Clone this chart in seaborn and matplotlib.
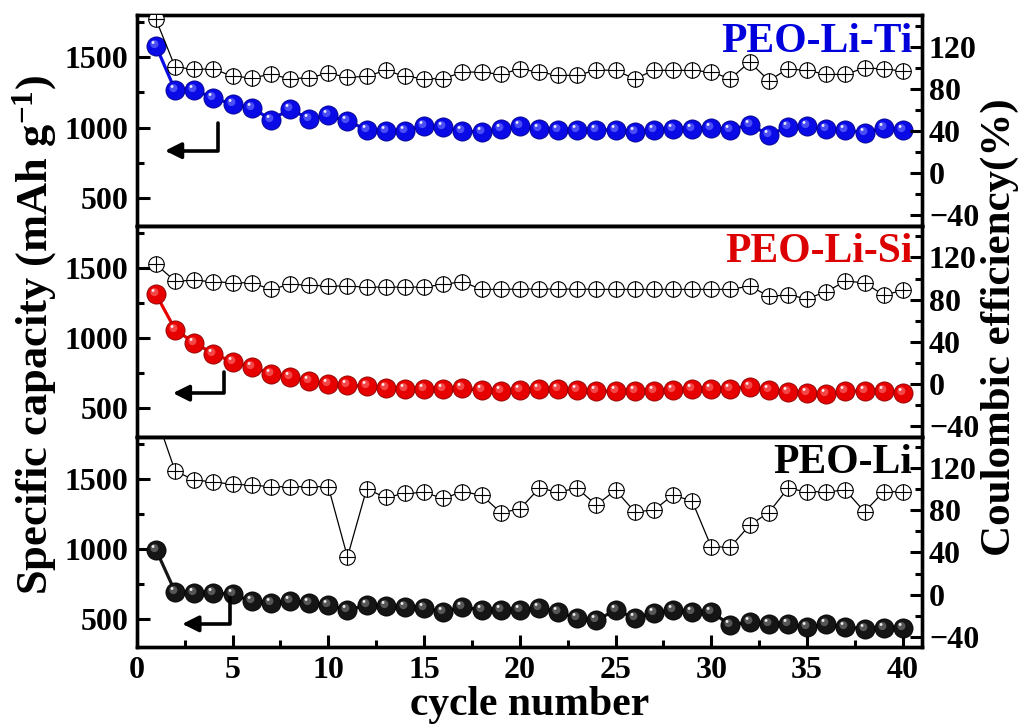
import numpy as np
import matplotlib
matplotlib.use("Agg")
import matplotlib.pyplot as plt
import seaborn as sns
from matplotlib.path import Path
from matplotlib.markers import MarkerStyle
from matplotlib.ticker import MultipleLocator

# ---- data ----
cycles = np.arange(1, 41)

ti_capacity = [1581, 1266, 1271, 1207, 1169, 1141, 1057, 1129, 1064, 1088,
               1045, 986, 974, 979, 1014, 1002, 974, 969, 990, 1009,
               993, 986, 980, 980, 985, 970, 985, 990, 990, 995,
               985, 1021, 950, 1002, 1009, 990, 983, 962, 998, 981]
ti_ce = [146, 100.8, 98.6, 99, 92, 90.6, 93.8, 89.7, 90.6, 95,
         91, 92, 97.6, 92, 89.7, 89.7, 96, 96, 93.8, 99,
         96, 92.9, 92.9, 98, 97.6, 89.7, 97.6, 97.6, 97.6, 96,
         89.7, 105.6, 88, 99, 97.6, 93.8, 93.8, 100, 99, 97]

si_capacity = [1314, 1062, 967, 891, 831, 795, 748, 724, 695, 676,
               664, 659, 648, 636, 636, 641, 645, 629, 621, 634,
               636, 636, 634, 624, 622, 622, 624, 629, 636, 641,
               641, 655, 629, 617, 612, 600, 624, 624, 624, 612]
si_ce = [113.5, 97.6, 98.3, 97, 96, 96, 89.7, 94.5, 93.8, 92.9,
         92.9, 91.9, 91.9, 91.9, 91.9, 94.5, 97, 89.7, 89.7, 90,
         90, 90, 90, 89.7, 89.7, 89.7, 89.7, 89.7, 89.7, 89.7,
         89.7, 92.9, 83.3, 84.3, 81, 87.4, 97.6, 96, 84.3, 88.8]

li_capacity = [995, 695, 688, 688, 676, 629, 616, 629, 616, 600,
               564, 600, 595, 588, 583, 552, 588, 564, 562, 564,
               583, 552, 505, 493, 564, 510, 545, 564, 552, 552,
               457, 481, 467, 467, 443, 467, 443, 433, 436, 436]
li_ce = [170, 117.3, 108.7, 107, 104.6, 104, 102.4, 102.4, 102.4, 102.4,
         35.7, 100.2, 92.2, 96, 97, 91.3, 97.6, 94.5, 77.9, 81.1,
         100.8, 97.6, 100.8, 85, 99.2, 78.6, 80.2, 94.5, 88.8, 45.2,
         45.2, 65.9, 77.9, 100.8, 97.6, 97.6, 99.2, 78.6, 97.6, 97.6]

labels = ["PEO-Li-Ti", "PEO-Li-Si", "PEO-Li"]
ball_colors = ["#0a0ae6", "#e60000", "#151515"]
edge_colors = ["#00008a", "#8a0000", "#000000"]
shine_colors = ["#7d86ff", "#ff8080", "#8c8c8c"]
text_colors = ["#0000dd", "#dd0000", "#000000"]

# arrow (vertical x, top y, corner y, tip x) in axes fraction
arrows = [(0.103, 0.486, 0.357, 0.036),
          (0.111, 0.306, 0.206, 0.046),
          (0.119, 0.250, 0.111, 0.058)]

# ---- style ----
sns.set_theme(style="ticks")
plt.rcParams["font.family"] = ["Liberation Serif", "DejaVu Serif"]
plt.rcParams["font.weight"] = "bold"
plt.rcParams["axes.labelweight"] = "bold"
plt.rcParams["mathtext.fontset"] = "custom"
plt.rcParams["mathtext.rm"] = "Liberation Serif:bold"
plt.rcParams["mathtext.bf"] = "Liberation Serif:bold"
plt.rcParams["mathtext.default"] = "bf"
for key in ["text.color", "axes.labelcolor", "xtick.color", "ytick.color",
            "axes.edgecolor"]:
    plt.rcParams[key] = "black"


def offset_circle(cx, cy, r):
    # circle placed off-centre inside a [-1, 1] box, used as highlight marker
    c = Path.circle(center=(cx, cy), radius=r)
    verts = np.concatenate([[[-1, -1], [1, 1]], c.vertices])
    codes = np.concatenate([[Path.MOVETO, Path.MOVETO], c.codes])
    return MarkerStyle(Path(verts, codes))


shine = offset_circle(-0.22, 0.25, 0.42)
spot = offset_circle(-0.36, 0.42, 0.15)

fig, axes = plt.subplots(3, 1, figsize=(10.21, 7.24), dpi=100, sharex=True)
fig.subplots_adjust(left=0.134, right=0.903, top=0.979, bottom=0.106, hspace=0)

caps = [ti_capacity, si_capacity, li_capacity]
ces = [ti_ce, si_ce, li_ce]

for i, ax in enumerate(axes):
    ax2 = ax.twinx()

    # capacity: line + shaded balls
    sns.lineplot(x=cycles, y=caps[i], ax=ax, color=ball_colors[i], lw=2.3, zorder=2)
    sns.scatterplot(x=cycles, y=caps[i], ax=ax, s=190, color=ball_colors[i],
                    edgecolor=edge_colors[i], linewidth=0.6, zorder=3)
    ax.scatter(cycles, caps[i], s=190, marker=shine, color=shine_colors[i],
               alpha=0.55, linewidths=0, zorder=4)
    ax.scatter(cycles, caps[i], s=190, marker=spot, color="white",
               alpha=0.9, linewidths=0, zorder=5)

    # coulombic efficiency: open circles with a cross
    sns.lineplot(x=cycles, y=ces[i], ax=ax2, color="black", lw=0.9, zorder=2)
    sns.scatterplot(x=cycles, y=ces[i], ax=ax2, s=125, marker="o", color="white",
                    edgecolor="black", linewidth=0.8, zorder=3)
    ax2.scatter(cycles, ces[i], s=125, marker="+", color="black",
                linewidths=0.8, zorder=4)

    ax.set_xlim(0, 41)
    ax.set_ylim(300, 1800)
    ax2.set_ylim(-50, 150)
    ax.yaxis.set_major_locator(MultipleLocator(500))
    ax.yaxis.set_minor_locator(MultipleLocator(250))
    ax2.yaxis.set_major_locator(MultipleLocator(40))
    ax2.yaxis.set_minor_locator(MultipleLocator(20))
    ax.xaxis.set_major_locator(MultipleLocator(5))
    ax.xaxis.set_minor_locator(MultipleLocator(2.5))

    ax.tick_params(axis="y", which="both", direction="in", width=2.2,
                   labelsize=23, pad=6, right=False, colors="black")
    ax.tick_params(axis="y", which="major", length=9)
    ax.tick_params(axis="y", which="minor", length=5)
    ax2.tick_params(axis="y", which="both", direction="in", width=2.2,
                    labelsize=23, pad=5, colors="black")
    ax2.tick_params(axis="y", which="major", length=9)
    ax2.tick_params(axis="y", which="minor", length=5)
    ax.tick_params(axis="x", which="both", direction="in", width=2.2,
                   labelsize=23, pad=6, top=False, colors="black")
    ax.tick_params(axis="x", which="major", length=9)
    ax.tick_params(axis="x", which="minor", length=5)
    if i < 2:
        ax.tick_params(axis="x", which="both", bottom=False, labelbottom=False)

    for a in (ax, ax2):
        for sp in a.spines.values():
            sp.set_linewidth(2.4)
            sp.set_color("black")
        a.set_ylabel("")
    ax.set_xlabel("")

    ax.text(0.988, 0.965, labels[i], transform=ax.transAxes, ha="right", va="top",
            fontsize=30, fontweight="bold", color=text_colors[i], zorder=10)

    xv, ytop, ycorner, xtip = arrows[i]
    ax.annotate("", xy=(xtip, ycorner), xycoords="axes fraction",
                xytext=(xv, ytop), textcoords="axes fraction",
                arrowprops=dict(arrowstyle="-|>", color="black", lw=2.6,
                                connectionstyle="angle,angleA=90,angleB=0,rad=0",
                                shrinkA=0, shrinkB=0, mutation_scale=24))

axes[2].set_xlabel("cycle number", fontsize=30, fontweight="bold", labelpad=1,
                   color="black")

fig.text(0.034, 0.537, "Specific capacity (mAh g$^{-1}$)", rotation=90,
         ha="center", va="center", fontsize=32, fontweight="bold", color="black")
fig.text(0.979, 0.548, "Coulombic efficiency(%)", rotation=90,
         ha="center", va="center", fontsize=31, fontweight="bold", color="black")

fig.savefig("out.png", dpi=100)
